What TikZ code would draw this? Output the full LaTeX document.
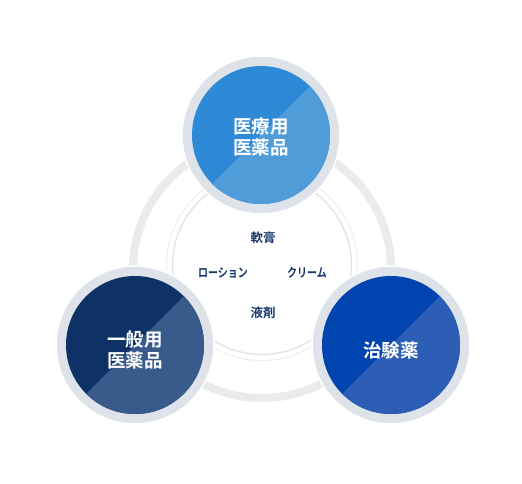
\documentclass[tikz,border=0pt]{standalone}
\usepackage{fontspec}
\newfontfamily\cjk[BoldFont={Noto Sans CJK JP Bold}]{Noto Sans CJK JP}
\definecolor{ringgray}{HTML}{DEE2E9}
\definecolor{bigring}{HTML}{EBEBEB}
\definecolor{thinA}{HTML}{E2E2E2}
\definecolor{thinB}{HTML}{EEEEEE}
\definecolor{topA}{HTML}{2E8AD6}
\definecolor{topB}{HTML}{4F9CD9}
\definecolor{leftA}{HTML}{0E3166}
\definecolor{leftB}{HTML}{385B8C}
\definecolor{rightA}{HTML}{0044B0}
\definecolor{rightB}{HTML}{2D5EB6}
\definecolor{navy}{HTML}{17366A}
\tikzset{
  ringnode/.style={circle, minimum size=158pt, inner sep=0pt, fill=ringgray, draw=white, line width=1.5pt},
  maintext/.style={text=white, font=\cjk\bfseries\fontsize{18.5}{21}\selectfont, align=center},
  smalltext/.style={text=navy, font=\cjk\bfseries\fontsize{12.5}{14}\selectfont}
}
\newcommand{\narrowkana}[1]{\scalebox{0.8}[1]{#1}}
\newcommand{\splitdisk}[3]{%
  \begin{scope}
    \clip (#1) circle (69);
    \fill[#2] (#1) circle (70);
    \fill[#3] ($(#1)+(-100,100)$) -- ($(#1)+(100,-100)$) -- ($(#1)+(100,100)$) -- cycle;
  \end{scope}}
\usetikzlibrary{calc}
\begin{document}
\begin{tikzpicture}[x=1pt,y=-1pt]
\useasboundingbox[fill=white] (0,0) rectangle (522,484);
\coordinate (mid) at (262,269);
\coordinate (inner) at (262,265);
\draw[bigring, line width=8pt] (mid) circle (129);
\draw[thinA, line width=1.3pt] (inner) circle (89.5);
\draw[thinB, line width=1pt] (inner) circle (95.5);
\node[smalltext] (nanko) at (263,238) {軟膏};
\node[smalltext] (lotion) at (223,273) {\narrowkana{ローション}};
\node[smalltext] (cream) at (307,273) {\narrowkana{クリーム}};
\node[smalltext] (ekizai) at (263,313) {液剤};
\node[ringnode] (top) at (261,135) {};
\node[ringnode] (left) at (135,345) {};
\node[ringnode] (right) at (391,345) {};
\splitdisk{top.center}{topA}{topB}
\splitdisk{left.center}{leftA}{leftB}
\splitdisk{right.center}{rightA}{rightB}
\node[maintext] (toplabel) at (261,137) {医療用\\医薬品};
\node[maintext] (leftlabel) at (135,350) {一般用\\医薬品};
\node[maintext] (rightlabel) at (391,350) {治験薬};
\end{tikzpicture}
\end{document}
